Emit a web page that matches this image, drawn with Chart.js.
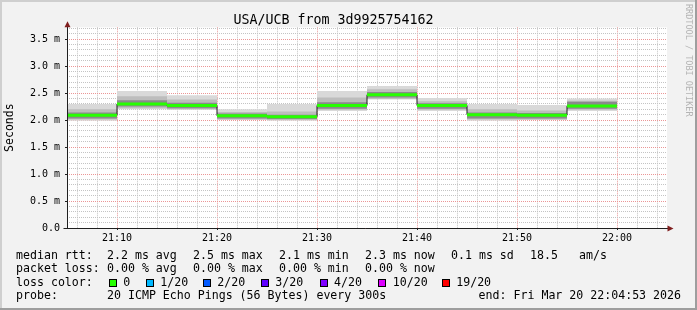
<!DOCTYPE html>
<html>
<head>
<meta charset="utf-8">
<script src="https://cdn.jsdelivr.net/npm/chart.js@4.4.1/dist/chart.umd.min.js"></script>
<style>
  html, body { margin: 0; padding: 0; background: #f2f2f2; }
</style>
</head>
<body>
<canvas id="smoke" width="697" height="310"></canvas>
<script>
// Zeitachse (5-Minuten-Schritte, Beginn jedes Intervalls)
const stepStart = ['21:05', '21:10', '21:15', '21:20', '21:25', '21:30', '21:35', '21:40', '21:45', '21:50', '21:55'];
const stepEnd = '22:00';
const axisStart = '21:05';
const axisEnd = '22:05';
const xTickLabels = ['21:10', '21:20', '21:30', '21:40', '21:50', '22:00'];
const yTickLabels = ['0.0', '0.5 m', '1.0 m', '1.5 m', '2.0 m', '2.5 m', '3.0 m', '3.5 m'];

// Werte in ms
const median     = [2.09, 2.30, 2.27, 2.08, 2.06, 2.27, 2.47, 2.27, 2.10, 2.09, 2.26];
const smokeMin   = [1.99, 2.20, 2.19, 2.00, 1.99, 2.17, 2.38, 2.17, 1.99, 2.00, 2.17];
const smokeMax   = [2.30, 2.54, 2.46, 2.20, 2.30, 2.54, 2.63, 2.41, 2.30, 2.28, 2.40];
const smokeMidLo = [2.01, 2.22, 2.20, 2.01, 2.00, 2.19, 2.39, 2.19, 2.01, 2.01, 2.19];
const smokeMidHi = [2.20, 2.44, 2.38, 2.15, 2.16, 2.42, 2.57, 2.35, 2.20, 2.18, 2.36];
const smokeInLo  = [2.03, 2.25, 2.22, 2.03, 2.02, 2.21, 2.42, 2.21, 2.03, 2.03, 2.21];
const smokeInHi  = [2.14, 2.37, 2.32, 2.12, 2.10, 2.33, 2.52, 2.31, 2.14, 2.13, 2.34];

// Legende
const titleText = 'USA/UCB from 3d9925754162';
const rttStats = ['2.2 ms avg', '2.5 ms max', '2.1 ms min', '2.3 ms now', '0.1 ms sd'];
const rttExtra = ['18.5', 'am/s'];
const lossStats = ['0.00 % avg', '0.00 % max', '0.00 % min', '0.00 % now'];
const lossLabels = ['0', '1/20', '2/20', '3/20', '4/20', '10/20', '19/20'];
const lossColors = ['#26ff00', '#00b8ff', '#0059ff', '#5e00ff', '#7e00ff', '#dd00ff', '#ff0000'];
const probeText = '20 ICMP Echo Pings (56 Bytes) every 300s';
const endText = 'end: Fri Mar 20 22:04:53 2026';
const watermark = 'RRDTOOL / TOBI OETIKER';

const MONO = "'DejaVu Sans Mono', monospace";

// "21:05" -> Minuten des Tages
function toMin(t) {
    let p = t.split(':');
    return parseInt(p[0]) * 60 + parseInt(p[1]);
}
function fmtMin(m) {
    let h = Math.floor(m / 60), mm = m % 60;
    return h + ':' + (mm < 10 ? '0' : '') + mm;
}

// Treppenlinie: Wert gilt vom Intervallbeginn bis zum nächsten Punkt
function stepData(values) {
    let pts = values.map((v, i) => ({x: toMin(stepStart[i]), y: v}));
    pts.push({x: toMin(stepEnd), y: values[values.length - 1]});
    return pts;
}
// nur die waagrechten Stücke (für die grüne Verlustfarbe)
function flatData(values) {
    let pts = [];
    values.forEach((v, i) => {
        let a = toMin(stepStart[i]);
        let b = i + 1 < stepStart.length ? toMin(stepStart[i + 1]) : toMin(stepEnd);
        pts.push({x: a, y: v}, {x: b, y: v}, {x: b, y: null});
    });
    return pts;
}

function hidden(data, order) {
    return {data: data, stepped: true, borderWidth: 0, borderColor: 'rgba(0,0,0,0)', pointRadius: 0, fill: false, order: order};
}
function band(data, color, order) {
    return {data: data, stepped: true, borderWidth: 0, borderColor: 'rgba(0,0,0,0)', backgroundColor: color, pointRadius: 0, fill: '-1', order: order};
}

const isMajorY = v => Math.abs(v * 2 - Math.round(v * 2)) < 1e-6;
const isMajorX = v => Math.round(v) % 10 === 0;
const isMinorX = v => Math.round(v) % 2 === 0;

const MGRID = '#eb9696';
const GRID = '#c4c4c4';

// Hintergrund, Rahmen, Achsen, Legende
const rrdLook = {
    id: 'rrdLook',
    beforeDraw(chart) {
        const ctx = chart.ctx, a = chart.chartArea;
        ctx.save();
        ctx.fillStyle = '#f2f2f2';
        ctx.fillRect(0, 0, chart.width, chart.height);
        ctx.fillStyle = '#cfcfcf';
        ctx.fillRect(0, 0, chart.width, 2);
        ctx.fillRect(0, 0, 2, chart.height);
        ctx.fillStyle = '#9e9e9e';
        ctx.fillRect(0, chart.height - 2, chart.width, 2);
        ctx.fillRect(chart.width - 2, 0, 2, chart.height);
        ctx.fillStyle = '#ffffff';
        ctx.fillRect(a.left, a.top, a.right - a.left, a.bottom - a.top);
        ctx.restore();
    },
    afterDatasetsDraw(chart) {
        const ctx = chart.ctx, a = chart.chartArea;
        const x0 = Math.round(a.left) + 0.5, y0 = Math.round(a.bottom) + 0.5;
        ctx.save();
        ctx.strokeStyle = '#1f1f1f';
        ctx.lineWidth = 1;
        ctx.beginPath();
        ctx.moveTo(x0, y0);
        ctx.lineTo(x0, a.top - 4);
        ctx.moveTo(x0 - 4, y0);
        ctx.lineTo(a.right + 1, y0);
        ctx.stroke();
        ctx.fillStyle = '#801f1f';
        ctx.beginPath();
        ctx.moveTo(x0, a.top - 6);
        ctx.lineTo(x0 - 3, a.top);
        ctx.lineTo(x0 + 3, a.top);
        ctx.closePath();
        ctx.fill();
        ctx.beginPath();
        ctx.moveTo(a.right + 6.5, y0);
        ctx.lineTo(a.right + 0.5, y0 - 3);
        ctx.lineTo(a.right + 0.5, y0 + 3);
        ctx.closePath();
        ctx.fill();
        ctx.restore();
    },
    afterDraw(chart) {
        const ctx = chart.ctx;
        ctx.save();
        // Wasserzeichen rechts
        ctx.font = '8.5px ' + MONO;
        ctx.fillStyle = '#b4b4b4';
        ctx.textBaseline = 'middle';
        ctx.translate(688, 4);
        ctx.rotate(Math.PI / 2);
        ctx.fillText(watermark, 0, 0);
        ctx.restore();

        ctx.save();
        ctx.font = '11.6px ' + MONO;
        ctx.fillStyle = '#000000';
        ctx.textBaseline = 'alphabetic';
        const rows = [258.5, 272, 285.6, 299.3];
        const cols = [107, 193, 279, 365, 451];
        ctx.fillText('median rtt:', 16, rows[0]);
        rttStats.forEach((t, i) => ctx.fillText(t, cols[i], rows[0]));
        ctx.fillText(rttExtra[0], 530, rows[0]);
        ctx.fillText(rttExtra[1], 579, rows[0]);
        ctx.fillText('packet loss:', 16, rows[1]);
        lossStats.forEach((t, i) => ctx.fillText(t, cols[i], rows[1]));
        ctx.fillText('loss color:', 16, rows[2]);
        const sq = [108.7, 145.7, 202.7, 260.7, 319.5, 378.3, 441.7];
        lossLabels.forEach((t, i) => {
            ctx.fillStyle = lossColors[i];
            ctx.fillRect(Math.round(sq[i]), 279, 8, 8);
            ctx.strokeStyle = '#000000';
            ctx.lineWidth = 1;
            ctx.strokeRect(Math.round(sq[i]) + 0.5, 279.5, 7, 7);
            ctx.fillStyle = '#000000';
            ctx.fillText(t, sq[i] + 14.5, rows[2]);
        });
        ctx.fillText('probe:', 16, rows[3]);
        ctx.fillText(probeText, 107, rows[3]);
        ctx.textAlign = 'right';
        ctx.fillText(endText, 681, rows[3]);
        ctx.restore();
    }
};

const ctx = document.getElementById('smoke').getContext('2d');
Chart.defaults.font.family = MONO;
Chart.defaults.color = '#000000';

new Chart(ctx, {
    type: 'line',
    data: {
        datasets: [
            hidden(stepData(smokeMin), 7),
            band(stepData(smokeMax), '#d9d9d9', 6),
            hidden(stepData(smokeMidLo), 5),
            band(stepData(smokeMidHi), '#bdbdbd', 4),
            hidden(stepData(smokeInLo), 3),
            band(stepData(smokeInHi), '#8a8a8a', 2),
            {data: stepData(median), stepped: true, borderColor: '#1a1a1a', borderWidth: 1, pointRadius: 0, fill: false, order: 1},
            {data: flatData(median), borderColor: lossColors[0], borderWidth: 3, borderCapStyle: 'butt', pointRadius: 0, fill: false, spanGaps: false, order: 0}
        ]
    },
    options: {
        responsive: false,
        animation: false,
        events: [],
        layout: {padding: {left: 0, right: 30, top: 0, bottom: 0}},
        plugins: {
            legend: {display: false},
            tooltip: {enabled: false},
            title: {
                display: true,
                text: titleText,
                color: '#000000',
                font: {family: MONO, size: 13.3, weight: 'normal', lineHeight: 1},
                padding: {top: 14, bottom: 0}
            }
        },
        scales: {
            x: {
                type: 'linear',
                min: toMin(axisStart),
                max: toMin(axisEnd),
                afterFit: s => { s.height = 82; },
                grid: {
                    color: c => isMajorX(c.tick.value) ? MGRID : (isMinorX(c.tick.value) ? GRID : 'rgba(0,0,0,0)'),
                    tickColor: c => isMajorX(c.tick.value) ? '#1f1f1f' : 'rgba(0,0,0,0)',
                    tickLength: 2,
                    drawTicks: true
                },
                border: {display: false, dash: [1, 1]},
                ticks: {
                    stepSize: 1,
                    maxTicksLimit: 80,
                    includeBounds: false,
                    autoSkip: false,
                    maxRotation: 0,
                    minRotation: 0,
                    padding: 2,
                    font: {family: MONO, size: 10},
                    color: '#000000',
                    callback: v => {
                        let s = fmtMin(Math.round(v));
                        return isMajorX(v) && xTickLabels.includes(s) ? s : '';
                    }
                }
            },
            y: {
                type: 'linear',
                min: 0,
                max: 3.72,
                afterFit: s => { s.width = 67; },
                title: {
                    display: true,
                    text: 'Seconds',
                    color: '#000000',
                    font: {family: MONO, size: 11.5},
                    padding: {top: 3, bottom: 0}
                },
                grid: {
                    color: c => isMajorY(c.tick.value) ? MGRID : GRID,
                    tickColor: c => isMajorY(c.tick.value) ? '#1f1f1f' : 'rgba(0,0,0,0)',
                    tickLength: 2,
                    drawTicks: true
                },
                border: {display: false, dash: [1, 1]},
                ticks: {
                    stepSize: 0.1,
                    maxTicksLimit: 50,
                    includeBounds: false,
                    autoSkip: false,
                    padding: 5,
                    font: {family: MONO, size: 10},
                    color: '#000000',
                    callback: v => isMajorY(v) ? yTickLabels[Math.round(v * 2)] : ''
                }
            }
        }
    },
    plugins: [rrdLook]
});
</script>
</body>
</html>
